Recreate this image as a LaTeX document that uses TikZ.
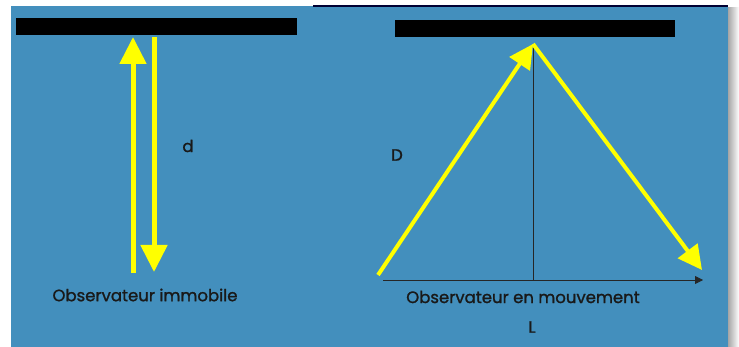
\documentclass[tikz,border=0pt]{standalone}
\usepackage{fontspec}
\setmainfont{Poppins}[BoldFont=Poppins, BoldFeatures={FakeBold=1.2}]
\usetikzlibrary{arrows.meta}
\definecolor{panelblue}{RGB}{67,143,189}
\definecolor{ray}{RGB}{255,255,0}
\tikzset{ >=latex }
\tikzset{
  mirror/.style={fill=black},
  lightray/.style={ray, line width=5pt, -{Triangle[width=26pt,length=27pt]}},
  slantray/.style={ray, line width=4pt, -{Triangle[width=24pt,length=24pt]}},
  lbl/.style={font=\fontsize{16.5}{19}\selectfont\bfseries, text=black!90, inner sep=0pt}
}
\begin{document}
\begin{tikzpicture}[x=1pt, y=-1pt]
    % Frame and background
    \useasboundingbox (0,0) rectangle (739,347);
    \fill[white] (0,0) rectangle (739,347);
    \shade[left color=black!35, right color=white] (728,8) rectangle (739,347);	% Shadow of the right panel
    \fill[panelblue] (11,6) rectangle (728,347);
    \draw[black!80!blue, line width=1.5pt] (313,6) -- (728,6);						% Top edge of the right panel
    % Left: observer at rest
    \fill[mirror] (16,18) rectangle (297,35);										% Mirror
    \coordinate (upS) at (133,273);
    \coordinate (upE) at (133,37);
    \coordinate (dnS) at (154,37);
    \coordinate (dnE) at (154,272);
    \draw[lightray] (upS) -- (upE);													% Going up
    \draw[lightray] (dnS) -- (dnE);													% Coming back
    \node[lbl] (d) at (188,146) {d};
    \node[lbl] (rest) at (145,295) {Observateur immobile};
    % Right: moving observer
    \fill[mirror] (395,20) rectangle (675,37);										% Mirror
    \coordinate (A) at (378,275);													% Start of the ray
    \coordinate (T) at (533,44);													% Top (reflection)
    \coordinate (B) at (702,270);													% End of the ray
    \coordinate (H) at (533,280);													% Foot of the vertical
    \coordinate (axS) at (383,280);
    \coordinate (axE) at (703,280);
    \draw[black!85, line width=0.6pt] (T) -- (H);									% Vertical
    \draw[black!85, line width=0.8pt, -{Triangle[width=8pt,length=8pt]}] (axS) -- (axE);	% Direction of motion
    \draw[slantray] (A) -- (T);
    \draw[slantray] (T) -- (B);
    \node[lbl] (Dlen) at (397,155) {D};
    \node[lbl] (moving) at (523,297) {Observateur en mouvement};
    \node[lbl] (L) at (532,327) {L};
\end{tikzpicture}
\end{document}
